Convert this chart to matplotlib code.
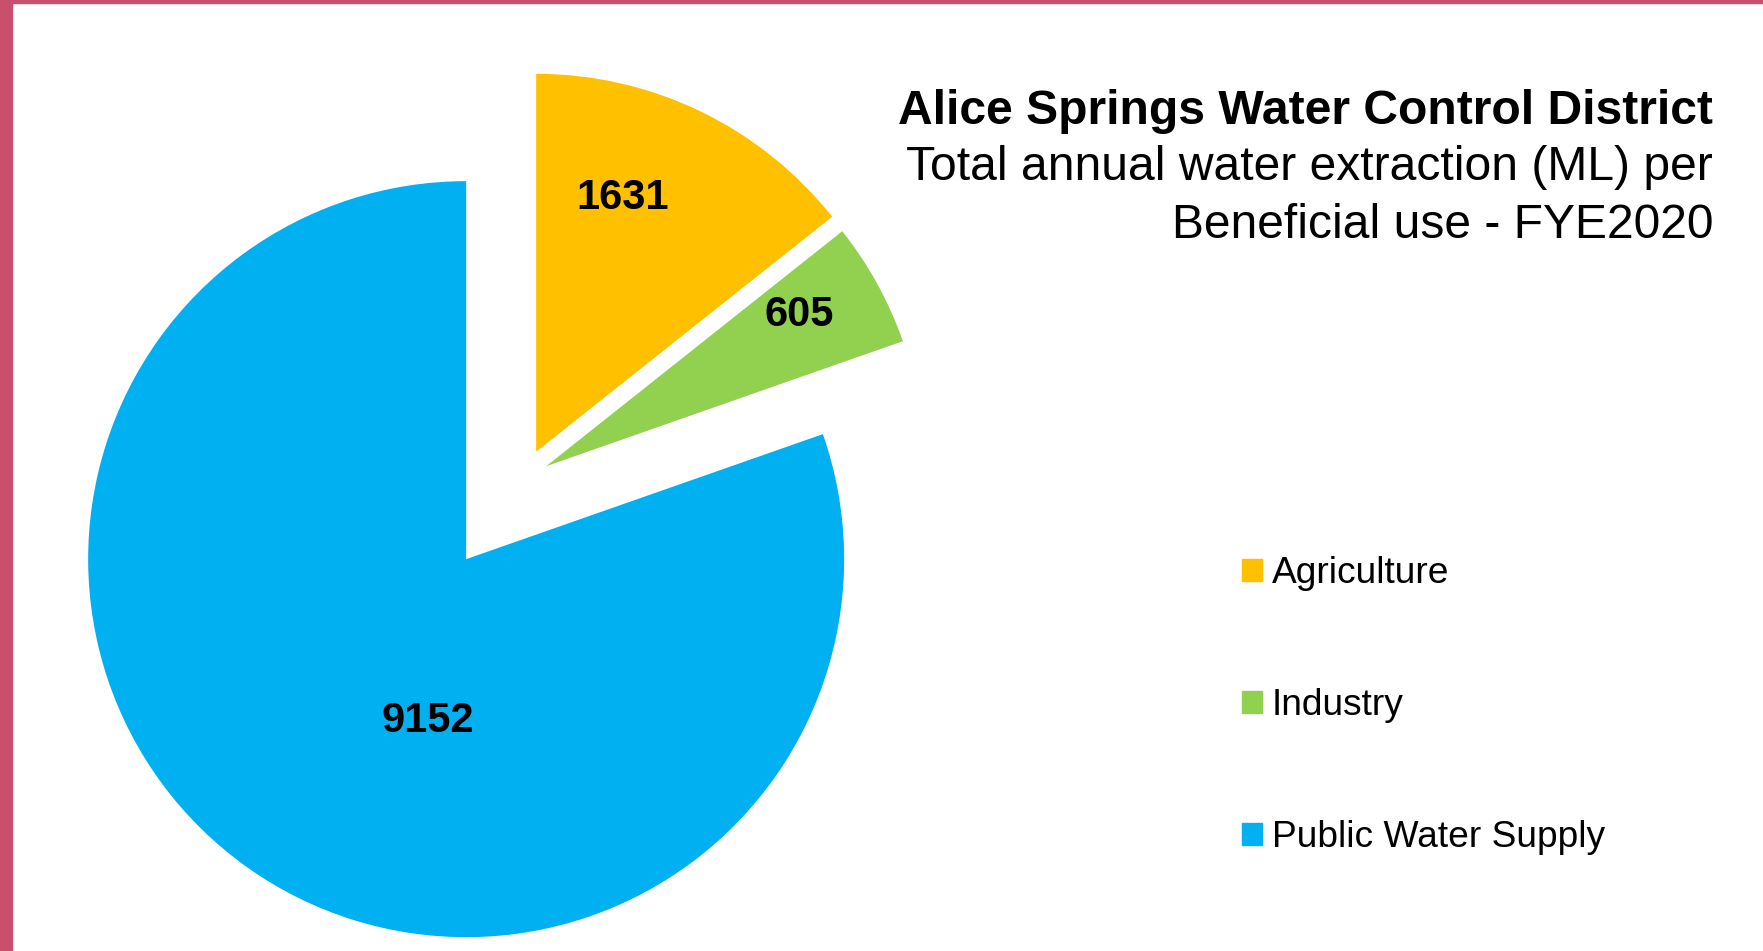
import matplotlib.pyplot as plt
import matplotlib.patches as mpatches
import numpy as np

plt.rcParams['font.family'] = ['Liberation Sans', 'DejaVu Sans']

categories = ['Agriculture', 'Industry', 'Public Water Supply']
values = [1631, 605, 9152]
colors = ['#FFC000', '#92D050', '#00B0F0']
explode = [0.08, 0.07, 0.26]

W, H = 1763, 951
fig = plt.figure(figsize=(W / 100, H / 100), dpi=100)

# pie centre and radius in pixels
cx, cy, R = 523, 479, 378
ax = fig.add_axes([0, 0, 1, 1])
wedges, _ = ax.pie(values, colors=colors, explode=explode, startangle=90,
                   counterclock=False, radius=1,
                   wedgeprops=dict(linewidth=0))
ax.set_xlim(-cx / R, (W - cx) / R)
ax.set_ylim(-(H - cy) / R, cy / R)
ax.set_aspect('auto')
ax.axis('off')

# value labels, placed relative to each wedge's own centre
label_r = [0.71, 0.78, 0.44]
label_dtheta = [7, 2, 22]
for w, v, r, dt in zip(wedges, values, label_r, label_dtheta):
    th = np.deg2rad((w.theta1 + w.theta2) / 2 + dt)
    x0, y0 = w.center
    ax.text(x0 + r * np.cos(th), y0 + r * np.sin(th), str(v),
            ha='center', va='center', fontsize=30, fontweight='bold')

# title block, right aligned
fig.text(1713 / W, 1 - 111 / H, 'Alice Springs Water Control District',
         ha='right', va='center', fontsize=34.6, fontweight='bold')
fig.text(1713 / W, 1 - 168 / H, 'Total annual water extraction (ML) per',
         ha='right', va='center', fontsize=34.6)
fig.text(1713 / W, 1 - 225 / H, 'Beneficial use - FYE2020',
         ha='right', va='center', fontsize=34.6)

handles = [mpatches.Patch(color=c) for c in colors]
fig.legend(handles, categories, loc='upper left',
           bbox_to_anchor=(1242 / W, 1 - 556 / H), frameon=False,
           fontsize=26.7, handlelength=0.55, handleheight=0.55,
           handletextpad=0.25, labelspacing=2.62, borderpad=0,
           borderaxespad=0)

# pinkish frame on left and top
border = '#C8506A'
fig.patches.append(mpatches.Rectangle((0, 0), 12 / W, 1, transform=fig.transFigure,
                                      color=border, zorder=10))
fig.patches.append(mpatches.Rectangle((0, 1 - 3 / H), 1, 3 / H, transform=fig.transFigure,
                                      color=border, zorder=10))

fig.savefig('out.png', dpi=100)
